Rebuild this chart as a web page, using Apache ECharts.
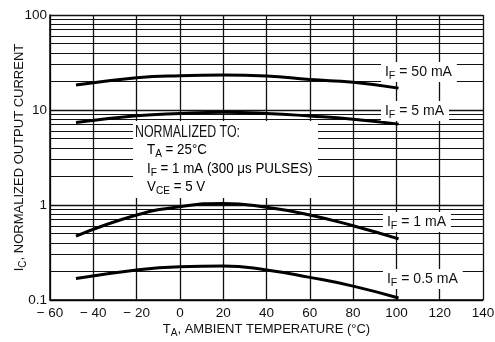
<!DOCTYPE html>
<html><head><meta charset="utf-8">
<script src="https://cdn.jsdelivr.net/npm/echarts@6/dist/echarts.min.js"></script>
<style>html,body{margin:0;padding:0;background:#fff}#c{width:495px;height:342px}</style>
</head><body><div id="c"></div>
<script>
var temps = [-48, -20, 0, 20, 40, 60, 80, 101];
var if50 = [18.3, 21.9, 23.0, 23.3, 22.8, 20.9, 19.6, 17.0];
var if5 = [7.4, 8.7, 9.2, 9.45, 9.2, 8.65, 8.0, 7.1];
var if1 = [0.47, 0.785, 0.96, 1.04, 0.946, 0.785, 0.605, 0.44];
var if05 = [0.168, 0.207, 0.224, 0.228, 0.207, 0.173, 0.140, 0.105];
var xTicks = [-60, -40, -20, 0, 20, 40, 60, 80, 100, 120, 140];
var yTicks = [0.1, 1, 10, 100];
var yTickLabels = ['0.1', '1', '10', '100'];
var minorGrid = [0.2,0.3,0.4,0.5,0.6,0.7,0.8,0.9,2,3,4,5,6,7,8,9,20,30,40,50,60,70,80,90];

var FF = "'Liberation Sans',Arial,sans-serif";
function mkRich(fs) {
  return {
    b: {fontFamily: FF, fontSize: fs, color: '#111', lineHeight: 18},
    s: {fontFamily: FF, fontSize: Math.round(fs * 0.75), color: '#111', lineHeight: 7, verticalAlign: 'bottom'}
  };
}
var rich13 = mkRich(13);
var rich14 = mkRich(14.5);
function mk(d) { return temps.map(function (t, i) { return [t, d[i]]; }); }
function curve(d) {
  return {type: 'line', data: mk(d), smooth: 0.5, symbol: 'none', silent: true,
    lineStyle: {color: '#000', width: 3}, z: 5};
}
function label(x, y, txt) {
  return {type: 'text', x: x, y: y, z: 100, scaleX: 0.97,
    style: {text: txt, rich: rich14, backgroundColor: '#fff', padding: [1, 5, 1, 4], fill: '#111'}};
}
var chart = echarts.init(document.getElementById('c'));
chart.setOption({
  animation: false,
  grid: {left: 50, right: 12, top: 15, bottom: 42, outerBoundsMode: 'none', containLabel: false},
  xAxis: {
    type: 'value', min: -60, max: 140, interval: 20,
    axisLine: {onZero: false, lineStyle: {color: '#000', width: 1.5}},
    axisTick: {show: false},
    splitLine: {show: true, lineStyle: {color: '#111', width: 1.3}},
    axisLabel: {fontFamily: FF, fontSize: 13.5, color: '#111', margin: 6,
      formatter: function (v) { return xTicks.indexOf(v) < 0 ? '' : (v < 0 ? '\u2212 ' + Math.abs(v) : String(v)); }},
    name: '{b|T}{s|A}{b|, AMBIENT TEMPERATURE (°C)}', nameLocation: 'middle', nameGap: 20,
    nameMoveOverlap: false,
    nameTextStyle: {rich: rich13}
  },
  yAxis: {
    type: 'log', logBase: 10, min: 0.1, max: 100,
    axisLine: {onZero: false, lineStyle: {color: '#000', width: 1.5}},
    axisTick: {show: false},
    splitLine: {show: true, lineStyle: {color: '#111', width: 1.3}},
    axisLabel: {fontFamily: FF, fontSize: 13.5, color: '#111', margin: 3,
      formatter: function (v) { var i = yTicks.findIndex(function (t) { return Math.abs(t - v) / t < 1e-6; }); return i < 0 ? '' : yTickLabels[i]; }},
    name: '{b|I}{s|C}{b|, NORMALIZED OUTPUT CURRENT}', nameLocation: 'middle', nameGap: 22, nameRotate: 90,
    nameMoveOverlap: false,
    nameTextStyle: {rich: rich13}
  },
  series: [
    {type: 'line', data: [], silent: true, z: 1,
      markLine: {silent: true, symbol: 'none', label: {show: false},
        lineStyle: {color: '#111', width: 1.2, type: 'solid'},
        data: minorGrid.map(function (v) { return {yAxis: v}; })}},
    curve(if50), curve(if5), curve(if1), curve(if05)
  ],
  graphic: [
    {type: 'rect', z: 90, shape: {x: 133, y: 121, width: 185, height: 77}, style: {fill: '#fff'}},
    {type: 'text', z: 100, x: 135, y: 124, scaleX: 0.75, style: {text: 'NORMALIZED TO:', font: '16.5px ' + FF, fill: '#111'}},
    {type: 'text', z: 100, x: 147, y: 141, scaleX: 0.92, style: {text: '{b|T}{s|A}{b| = 25°C}', rich: rich14}},
    {type: 'text', z: 100, x: 147, y: 160, scaleX: 0.92, style: {text: '{b|I}{s|F}{b| = 1 mA (300 μs PULSES)}', rich: rich14}},
    {type: 'text', z: 100, x: 147, y: 178, scaleX: 0.92, style: {text: '{b|V}{s|CE}{b| = 5 V}', rich: rich14}},
    label(381, 62, '{b|I}{s|F}{b| = 50 mA}'),
    label(381, 101, '{b|I}{s|F}{b| = 5 mA}'),
    label(383, 212, '{b|I}{s|F}{b| = 1 mA}'),
    label(383, 269, '{b|I}{s|F}{b| = 0.5 mA}')
  ]
});
</script></body></html>
